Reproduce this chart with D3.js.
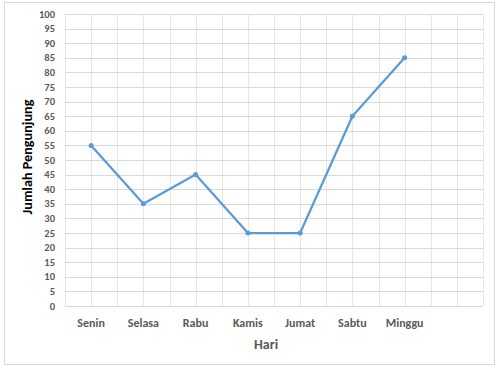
<!DOCTYPE html>
<html>
<head>
<meta charset="utf-8">
<script src="https://cdn.jsdelivr.net/npm/d3@7"></script>
<style>
  body { margin: 0; background: #fff; }
  text { font-family: Carlito, Calibri, "Liberation Sans", sans-serif; }
</style>
</head>
<body>
<div id="chart"></div>
<script>
// data
const days = ['Senin', 'Selasa', 'Rabu', 'Kamis', 'Jumat', 'Sabtu', 'Minggu', '']
const visitors = [55, 35, 45, 25, 25, 65, 85]
const yTicks = d3.range(0, 101, 5)

const width = 500
const height = 369
const margin = { top: 14, right: 17, bottom: 63, left: 65 }
const w = width - margin.left - margin.right
const h = height - margin.top - margin.bottom

const svg = d3.select('#chart')
    .append('svg')
    .attr('width', width)
    .attr('height', height)

// chart border
svg.append('rect')
    .attr('x', 4.5).attr('y', 2.5)
    .attr('width', 490).attr('height', 362)
    .attr('fill', '#fff')
    .attr('stroke', '#d9d9d9')

const g = svg.append('g')
    .attr('transform', `translate(${margin.left},${margin.top})`)

const x = d3.scaleBand().domain(days.map((d, i) => i)).range([0, w])
const y = d3.scaleLinear().domain([0, 100]).range([h, 0])

// vertical gridlines at category edges and centres
const vLines = []
days.forEach((d, i) => {
    vLines.push(x(i))
    vLines.push(x(i) + x.bandwidth() / 2)
})
vLines.push(w)

g.selectAll('.vgrid')
    .data(vLines)
    .enter().append('line')
    .attr('x1', d => Math.round(d) + 0.5).attr('x2', d => Math.round(d) + 0.5)
    .attr('y1', 0).attr('y2', h)
    .attr('stroke', '#e6e6e6')

g.selectAll('.hgrid')
    .data(yTicks)
    .enter().append('line')
    .attr('x1', 0).attr('x2', w)
    .attr('y1', d => Math.round(y(d)) + 0.5).attr('y2', d => Math.round(y(d)) + 0.5)
    .attr('stroke', '#d9d9d9')

// y axis labels
g.selectAll('.ylab')
    .data(yTicks)
    .enter().append('text')
    .attr('x', -10)
    .attr('y', d => y(d))
    .attr('dy', '0.35em')
    .attr('text-anchor', 'end')
    .attr('font-size', 10.5)
    .attr('font-weight', 'bold')
    .attr('fill', '#595959')
    .text(d => d)

// x axis labels
g.selectAll('.xlab')
    .data(days)
    .enter().append('text')
    .attr('x', (d, i) => x(i) + x.bandwidth() / 2)
    .attr('y', h + 21)
    .attr('text-anchor', 'middle')
    .attr('font-size', 12)
    .attr('font-weight', 'bold')
    .attr('fill', '#595959')
    .text(d => d)

// axis titles
svg.append('text')
    .attr('x', 266)
    .attr('y', 349)
    .attr('text-anchor', 'middle')
    .attr('font-size', 14)
    .attr('font-weight', 'bold')
    .attr('fill', '#595959')
    .text('Hari')

svg.append('text')
    .attr('transform', `translate(32,157) rotate(-90)`)
    .attr('text-anchor', 'middle')
    .attr('font-size', 14.2)
    .attr('font-weight', 'bold')
    .attr('fill', '#000')
    .text('Jumlah Pengunjung')

// line
const line = d3.line()
    .x((d, i) => x(i) + x.bandwidth() / 2)
    .y(d => y(d))

g.append('path')
    .datum(visitors)
    .attr('d', line)
    .attr('fill', 'none')
    .attr('stroke', '#5b9bd5')
    .attr('stroke-width', 2.25)
    .attr('stroke-linejoin', 'round')

g.selectAll('.pt')
    .data(visitors)
    .enter().append('circle')
    .attr('cx', (d, i) => x(i) + x.bandwidth() / 2)
    .attr('cy', d => y(d))
    .attr('r', 2.5)
    .attr('fill', '#5b9bd5')
</script>
</body>
</html>
